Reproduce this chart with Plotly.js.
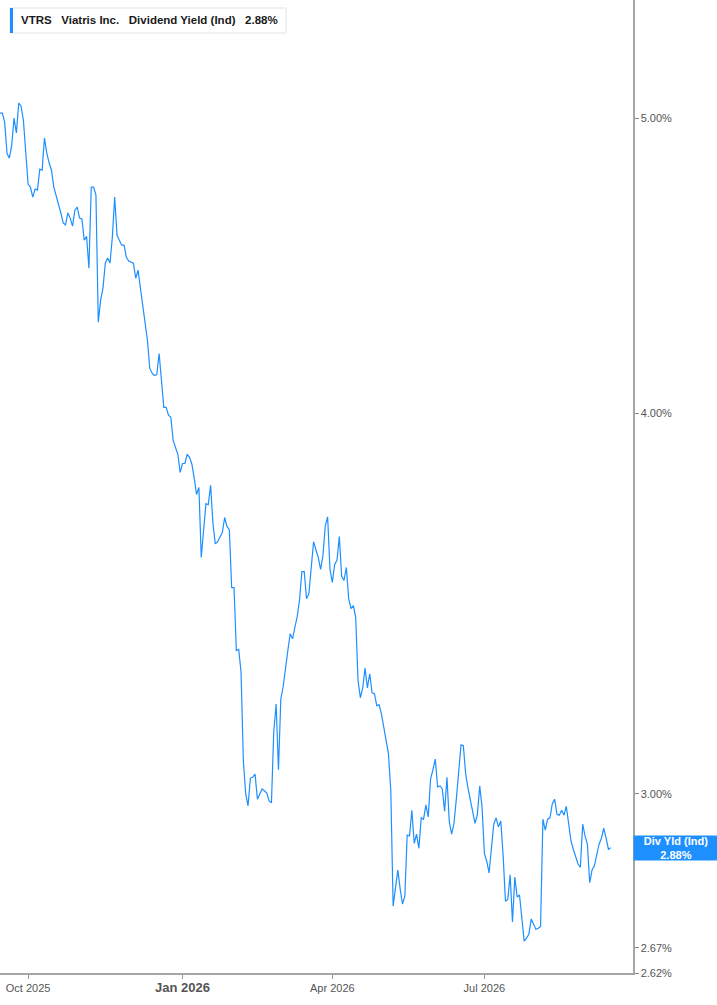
<!DOCTYPE html>
<html>
<head>
<meta charset="utf-8">
<script src="https://cdn.plot.ly/plotly-3.0.1.min.js"></script>
<style>
html,body{margin:0;padding:0;background:#fff;}
#chart{width:717px;height:1005px;}
</style>
</head>
<body>
<div id="chart"></div>
<script>
// ---- data ----
const startDate = '2025-09-15';
const tickDates = ['2025-10-01', '2026-01-01', '2026-04-01', '2026-07-01'];
const tickLabels = ['Oct 2025', '<span style="font-size:13px"><b>Jan 2026</b></span>', 'Apr 2026', 'Jul 2026'];
const yTickVals = [2.62, 2.67, 3.00, 4.00, 5.00];
const yTickLabels = ['2.62%', '2.67%', '3.00%', '4.00%', '5.00%'];
const yieldValues = [
  5.019, 5.019, 4.985, 4.869, 4.851, 4.899, 5.000, 4.944, 5.057, 5.045,
  4.992, 4.855, 4.757, 4.746, 4.710, 4.739, 4.735, 4.811, 4.807, 4.925,
  4.869, 4.833, 4.807, 4.746, 4.717, 4.685, 4.654, 4.619, 4.612, 4.654,
  4.636, 4.608, 4.664, 4.675, 4.636, 4.633, 4.559, 4.573, 4.464, 4.746,
  4.746, 4.717, 4.285, 4.357, 4.397, 4.481, 4.498, 4.481, 4.569, 4.710,
  4.576, 4.559, 4.542, 4.542, 4.501, 4.488, 4.484, 4.481, 4.430, 4.457,
  4.397, 4.337, 4.292, 4.227, 4.138, 4.123, 4.116, 4.119, 4.185, 4.110,
  4.018, 4.018, 3.994, 3.988, 3.919, 3.898, 3.878, 3.825, 3.851, 3.851,
  3.878, 3.869, 3.849, 3.808, 3.762, 3.782, 3.587, 3.661, 3.736, 3.733,
  3.788, 3.680, 3.624, 3.630, 3.641, 3.655, 3.697, 3.672, 3.663, 3.506,
  3.506, 3.343, 3.346, 3.290, 3.075, 3.000, 2.973, 3.036, 3.038, 3.045,
  2.988, 3.000, 3.011, 3.007, 3.002, 2.984, 2.980, 3.146, 3.211, 3.055,
  3.223, 3.253, 3.292, 3.343, 3.386, 3.373, 3.402, 3.430, 3.474, 3.549,
  3.549, 3.477, 3.490, 3.560, 3.630, 3.608, 3.587, 3.555, 3.592, 3.674,
  3.699, 3.555, 3.520, 3.568, 3.579, 3.644, 3.536, 3.525, 3.560, 3.477,
  3.451, 3.459, 3.428, 3.268, 3.226, 3.250, 3.299, 3.250, 3.285, 3.238,
  3.236, 3.207, 3.209, 3.187, 3.154, 3.123, 3.092, 3.007, 2.756, 2.794,
  2.832, 2.792, 2.760, 2.777, 2.908, 2.906, 2.963, 2.890, 2.910, 2.879,
  2.946, 2.943, 2.975, 2.948, 3.034, 3.055, 3.080, 3.016, 3.018, 3.011,
  2.961, 3.038, 2.937, 2.910, 2.934, 2.988, 3.045, 3.113, 3.111, 3.045,
  3.013, 2.988, 2.961, 2.934, 2.954, 3.018, 2.970, 2.868, 2.851, 2.826,
  2.879, 2.932, 2.946, 2.926, 2.939, 2.864, 2.766, 2.770, 2.822, 2.723,
  2.817, 2.775, 2.779, 2.725, 2.684, 2.690, 2.698, 2.729, 2.719, 2.708,
  2.710, 2.714, 2.943, 2.919, 2.943, 2.946, 2.977, 2.988, 2.954, 2.952,
  2.963, 2.952, 2.972, 2.934, 2.895, 2.877, 2.862, 2.845, 2.838, 2.932,
  2.906, 2.888, 2.805, 2.832, 2.841, 2.864, 2.888, 2.901, 2.923, 2.901,
  2.877, 2.880
];
const lastLabel = 'Div Yld (Ind)';
const titleParts = ['VTRS', 'Viatris Inc.', 'Dividend Yield (Ind)', '2.88%'];

// trading-day dates (weekdays) for the series
function weekdayDates(start, n) {
  const d = new Date(start + 'T00:00:00Z');
  const out = [];
  while (out.length < n) {
    const w = d.getUTCDay();
    if (w !== 0 && w !== 6) out.push(d.toISOString().slice(0, 10));
    d.setUTCDate(d.getUTCDate() + 1);
  }
  return out;
}
const dates = weekdayDates(startDate, yieldValues.length);
const lastVal = yieldValues[yieldValues.length - 1];

const W = 717, H = 1005;
const mL = 0, mR = 84, mT = 0, mB = 32;
const plotW = W - mL - mR, plotH = H - mT - mB;
const px = v => v / plotW;          // pixel -> paper x
const py = v => 1 - v / plotH;      // pixel (from top) -> paper y

const blue = '#1e8fff';
const sp = '\u00a0\u00a0\u00a0';

const trace = {
  x: dates,
  y: yieldValues,
  type: 'scatter',
  mode: 'lines',
  line: {color: blue, width: 1.2},
  hoverinfo: 'skip'
};

const layout = {
  width: W, height: H,
  margin: {l: mL, r: mR, t: mT, b: mB, pad: 0},
  paper_bgcolor: '#fff',
  plot_bgcolor: '#fff',
  showlegend: false,
  font: {family: 'Liberation Sans, Arial, sans-serif', size: 11, color: '#555'},
  xaxis: {
    type: 'date',
    range: ['2025-09-15', '2026-09-28 12:00'],
    rangebreaks: [{bounds: ['sat', 'mon']}],
    tickmode: 'array',
    tickvals: tickDates,
    ticktext: tickLabels,
    ticks: 'outside', ticklen: 4, tickwidth: 1, tickcolor: '#999',
    showline: true, linecolor: '#a6a6a6', linewidth: 1.5,
    showgrid: false, zeroline: false,
    tickfont: {size: 11, color: '#555'},
    fixedrange: true
  },
  yaxis: {
    type: 'log',
    side: 'right',
    range: [Math.log10(2.62), Math.log10(5.467)],
    tickmode: 'array',
    tickvals: yTickVals,
    ticktext: yTickLabels,
    ticks: 'outside', ticklen: 4, tickwidth: 1, tickcolor: '#888',
    showline: true, linecolor: '#a6a6a6', linewidth: 1.5,
    showgrid: false, zeroline: false,
    tickfont: {size: 11, color: '#555'},
    fixedrange: true
  },
  shapes: [
    {type: 'rect', xref: 'paper', yref: 'paper',
     x0: px(10), x1: px(286), y0: py(33), y1: py(8),
     line: {color: '#e3e3e3', width: 1}, fillcolor: '#fff', layer: 'above'},
    {type: 'rect', xref: 'paper', yref: 'paper',
     x0: px(10), x1: px(13), y0: py(33), y1: py(8),
     line: {width: 0}, fillcolor: blue, layer: 'above'}
  ],
  annotations: [
    {xref: 'paper', yref: 'paper', x: px(19), y: py(20.5),
     xanchor: 'left', yanchor: 'middle', showarrow: false,
     text: '<b>' + titleParts.join(sp) + '</b>',
     font: {family: 'Liberation Sans, Arial, sans-serif', size: 11.5, color: '#1a1a1a'}},
    {xref: 'paper', yref: 'y', x: 1, y: Math.log10(lastVal),
     xanchor: 'left', yanchor: 'middle', showarrow: false,
     width: 82, height: 22, borderpad: 1, bgcolor: blue, align: 'center',
     text: '<b>' + lastLabel + '</b><br><b>' + lastVal.toFixed(2) + '%</b>',
     font: {family: 'Liberation Sans, Arial, sans-serif', size: 11, color: '#fff'}}
  ]
};

Plotly.newPlot('chart', [trace], layout, {displayModeBar: false, staticPlot: true});
</script>
</body>
</html>
